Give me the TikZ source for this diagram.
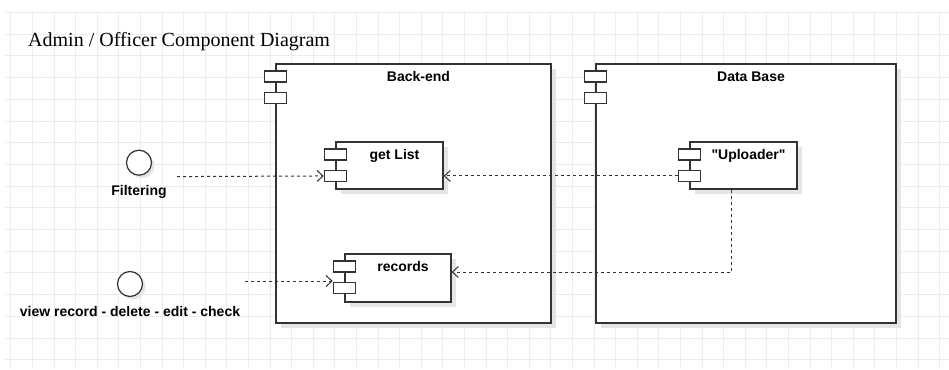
\documentclass[tikz,border=0pt]{standalone}
\usepackage{fontspec}
\setmainfont{Liberation Serif}
\setsansfont{Liberation Sans}
\usetikzlibrary{arrows.meta,positioning,shadows}
\definecolor{umlline}{RGB}{51,51,51}
\definecolor{gridgray}{RGB}{236,236,236}
\definecolor{shadowgray}{RGB}{229,229,229}

\begin{document}
\begin{tikzpicture}[x=1pt,y=-1pt,
    comp/.style={draw=umlline,line width=1.3pt,fill=white,inner sep=0pt,
        drop shadow={shadow xshift=5pt,shadow yshift=-5pt,fill=shadowgray,opacity=1}},
    tab/.style={draw=umlline,line width=1.2pt,fill=white,minimum width=22pt,minimum height=11pt,inner sep=0pt},
    lbl/.style={font=\sffamily\bfseries\fontsize{14}{16}\selectfont,anchor=base,inner sep=0pt},
    iface/.style={circle,draw=umlline,line width=1.2pt,fill=white,minimum size=25pt,inner sep=0pt,
        drop shadow={shadow xshift=3pt,shadow yshift=-3pt,fill=shadowgray,opacity=1}},
    dep/.style={draw=umlline,line width=1pt,dash pattern=on 3pt off 3pt,-{Straight Barb[length=6pt,width=11pt]}},
    gridline/.style={draw=gridgray,line width=0.6pt}]
    \useasboundingbox (0,0) rectangle (949,369);

    % Background grid
    \foreach \i in {0,...,43}
        \draw[gridline] ({10.7+21.6*\i},12.3) -- ({10.7+21.6*\i},369);
    \foreach \j in {0,...,16}
        \draw[gridline] (5,{12.3+21.7*\j}) -- (949,{12.3+21.7*\j});

    % Title
    \node[anchor=base west,font=\fontsize{20}{24}\selectfont,inner sep=0pt] (title) at (28,46.7) {Admin / Officer Component Diagram};

    % Containers
    \node[comp,minimum width=275pt,minimum height=259pt] (backend) at (413.5,193.5) {};
    \node[comp,minimum width=300pt,minimum height=259pt] (database) at (746,193.5) {};

    % Inner components
    \node[comp,minimum width=107pt,minimum height=47pt] (getlist) at (389.5,165.5) {};
    \node[comp,minimum width=106pt,minimum height=48pt] (records) at (398,278) {};
    \node[comp,minimum width=107pt,minimum height=47pt] (uploader) at (743.5,165.5) {};

    % Component tabs
    \foreach \c in {backend,database,getlist,records,uploader}{
        \node[tab] (\c-a) at ([yshift=-13.2pt]\c.north west) {};
        \node[tab] (\c-b) at ([yshift=-34.6pt]\c.north west) {};
    }

    % Names
    \node[lbl] (backendlbl) at ([xshift=5pt,yshift=-18.5pt]backend.north) {Back-end};
    \node[lbl] (databaselbl) at ([xshift=5pt,yshift=-18.5pt]database.north) {Data Base};
    \node[lbl] (getlistlbl) at ([xshift=5pt,yshift=-18pt]getlist.north) {get List};
    \node[lbl] (recordslbl) at ([xshift=5pt,yshift=-18pt]records.north) {records};
    \node[lbl] (uploaderlbl) at ([xshift=5pt,yshift=-18pt]uploader.north) {\textquotedbl Uploader\textquotedbl};

    % Interfaces
    \node[iface] (filtering) at (139,162.7) {};
    \node[lbl] (filteringlbl) at (139,195) {Filtering};
    \node[iface] (viewrec) at (130,284) {};
    \node[lbl] (viewreclbl) at (130,316) {view record - delete - edit - check};

    % Dependencies
    \coordinate (filtstart) at (177,176.6);
    \coordinate (viewstart) at (245,281);
    \draw[dep] (filtstart) -- (getlist-b.west);
    \draw[dep] (uploader-b.west) -- (getlist.east |- uploader-b.west);
    \draw[dep] ([xshift=-12pt]uploader.south) |- ([yshift=6pt]records.east);
    \draw[dep] (viewstart) -- (records-b.west |- viewstart);
\end{tikzpicture}
\end{document}
